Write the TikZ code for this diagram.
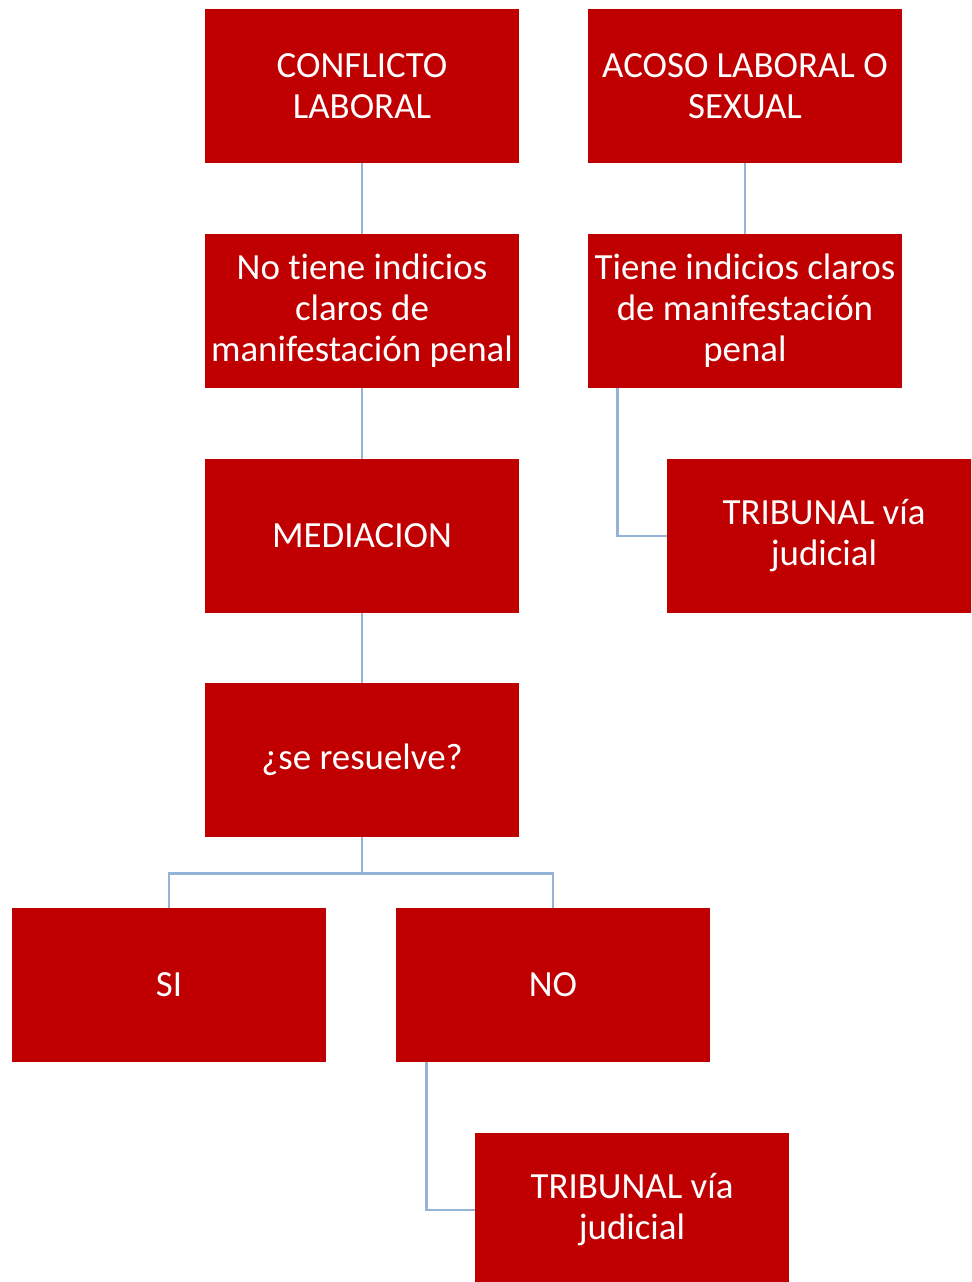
\documentclass[tikz,border=0pt]{standalone}
\usepackage{fontspec}
\setmainfont{Carlito}[Ligatures=NoCommon]
\definecolor{boxred}{HTML}{C00000}
\definecolor{linkblue}{HTML}{95B3D7}
\tikzset{
  box/.style={fill=boxred,text=white,align=center,minimum width=6.28cm,minimum height=3.08cm,inner sep=2pt,font=\fontsize{21}{23.3}\selectfont},
  link/.style={draw=linkblue,line width=1.4pt}
}

\begin{document}
\begin{tikzpicture}[x=0.02cm,y=-0.02cm]
  \useasboundingbox (0,0) rectangle (971,1282);
  \clip (0,0) rectangle (971,1282);
  % nodes (absolute positions, pixel grid)
  \node[box] at (362,86) (conf) {CONFLICTO\\LABORAL};
  \node[box] at (745,86) (acoso) {ACOSO LABORAL O\\SEXUAL};
  \node[box] at (362,311) (notin) {No tiene indicios\\claros de\\manifestación penal};
  \node[box] at (745,311) (tin) {Tiene indicios claros\\de manifestación\\penal};
  \node[box] at (362,536) (med) {MEDIACION};
  \node[box] at (824,536) (trib1) {TRIBUNAL vía\\judicial};
  \node[box] at (362,760) (res) {¿se resuelve?};
  \node[box] at (169,985) (si) {SI};
  \node[box] at (553,985) (no) {NO};
  \node[box] at (632,1210) (trib2) {TRIBUNAL vía\\judicial};
  % connectors
  \draw[link] (conf) -- (notin);
  \draw[link] (acoso) -- (tin);
  \draw[link] (notin) -- (med);
  \draw[link] (med) -- (res);
  \draw[link] ([xshift=0.6cm]tin.south west) |- (trib1.west);
  \draw[link] (res.south) -- ++(0,36) -| (si.north);
  \draw[link] (res.south) -- ++(0,36) -| (no.north);
  \draw[link] ([xshift=0.62cm]no.south west) |- (trib2.west);
\end{tikzpicture}
\end{document}
